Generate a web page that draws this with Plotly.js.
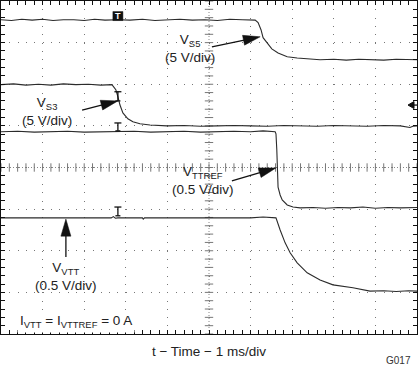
<!DOCTYPE html>
<html>
<head>
<meta charset="utf-8">
<script src="https://cdn.plot.ly/plotly-3.0.1.min.js"></script>
<style>html,body{margin:0;padding:0;background:#fff;}#chart{width:419px;height:365px;}</style>
</head>
<body>
<div id="chart"></div>
<script>
// Time axis in ms (1 ms/div), trace levels in screen divisions (0..8)
const tS5 = [0, 0.25, 0.5, 0.75, 1.0, 1.25, 1.5, 1.75, 2.0, 2.25, 2.5, 2.81, 3.1, 3.4, 3.7, 4.0, 4.3, 4.6, 4.9, 5.2, 5.5, 5.8, 6.11, 6.18, 6.25, 6.30, 6.39, 6.51, 6.66, 6.88, 7.12, 7.36, 7.67, 8.0, 8.3, 8.6, 8.9, 9.2, 9.5, 9.8, 10];
const vS5 = [7.55, 7.53, 7.56, 7.54, 7.56, 7.53, 7.55, 7.55, 7.53, 7.56, 7.54, 7.55, 7.54, 7.56, 7.53, 7.55, 7.56, 7.54, 7.55, 7.53, 7.56, 7.55, 7.54, 7.48, 7.31, 7.12, 7.00, 6.85, 6.75, 6.66, 6.63, 6.61, 6.59, 6.60, 6.58, 6.60, 6.59, 6.58, 6.60, 6.59, 6.59];

const tS3 = [0, 0.3, 0.6, 0.9, 1.2, 1.5, 1.8, 2.1, 2.4, 2.67, 2.69, 2.76, 2.81, 2.86, 2.93, 3.05, 3.17, 3.34, 3.58, 3.99, 4.4, 4.8, 5.2, 5.6, 6.0, 6.4, 6.8, 7.2, 7.6, 8.0, 8.4, 8.8, 9.2, 9.6, 9.83, 9.9, 10];
const vS3 = [5.99, 6.01, 5.98, 6.00, 5.98, 6.01, 5.99, 6.00, 5.98, 5.99, 5.96, 5.87, 5.70, 5.50, 5.31, 5.17, 5.10, 5.05, 5.02, 5.00, 5.01, 4.99, 5.00, 5.01, 5.00, 4.99, 5.01, 5.00, 4.99, 5.01, 5.00, 4.99, 5.01, 5.00, 4.96, 4.99, 5.00];

const tTTREF = [0, 0.4, 0.8, 1.2, 1.6, 2.0, 2.4, 2.8, 3.2, 3.6, 4.0, 4.4, 4.8, 5.2, 5.6, 6.0, 6.3, 6.59, 6.61, 6.63, 6.65, 6.66, 6.71, 6.76, 6.88, 7.02, 7.19, 7.5, 7.8, 8.1, 8.4, 8.7, 9.0, 9.3, 9.6, 10];
const vTTREF = [4.86, 4.87, 4.85, 4.86, 4.87, 4.85, 4.86, 4.86, 4.87, 4.85, 4.86, 4.87, 4.85, 4.86, 4.87, 4.86, 4.88, 4.86, 4.81, 4.42, 3.94, 3.53, 3.34, 3.22, 3.10, 3.05, 3.03, 3.04, 3.02, 3.04, 3.03, 3.05, 3.02, 3.04, 3.03, 3.04];

const tVTT = [0, 0.5, 1.0, 1.5, 2.0, 2.5, 2.65, 2.7, 2.75, 2.81, 3.0, 3.4, 3.42, 3.45, 4.0, 4.5, 5.0, 5.5, 6.0, 6.3, 6.61, 6.71, 6.83, 6.95, 7.12, 7.36, 7.67, 7.98, 8.46, 8.87, 9.2, 9.5, 9.8, 10];
const vVTT = [2.79, 2.79, 2.80, 2.79, 2.79, 2.79, 2.79, 2.82, 2.78, 2.79, 2.79, 2.79, 2.76, 2.79, 2.79, 2.79, 2.79, 2.79, 2.79, 2.81, 2.79, 2.50, 2.19, 1.95, 1.71, 1.47, 1.30, 1.18, 1.11, 1.03, 1.04, 1.02, 1.04, 1.03];

// Trigger position (ms) and channel marker spans (divisions)
const trigTime = 2.81;
const markerTop = [5.82, 5.07, 3.05];
const markerBottom = [5.60, 4.88, 2.84];
const trigLevel = 5.50;

const labels = [
  {text: 'V<sub>S5</sub><br>(5 V/div)', x: 4.54, y: 6.86},
  {text: 'V<sub>S3</sub><br>(5 V/div)', x: 1.10, y: 5.35},
  {text: 'V<sub>TTREF</sub><br>(0.5 V/div)', x: 4.85, y: 3.69},
  {text: 'V<sub>VTT</sub><br>(0.5 V/div)', x: 1.57, y: 1.38}
];
const noteText = 'I<sub>VTT</sub> = I<sub>VTTREF</sub> = 0 A';
const noteX = 1.80, noteY = 0.31;
const arrows = [
  {tail: [5.07, 6.90], tip: [6.23, 7.14]},
  {tail: [1.95, 5.38], tip: [2.81, 5.60]},
  {tail: [5.55, 3.68], tip: [6.61, 3.99]},
  {tail: [1.56, 1.85], tip: [1.56, 2.76]}
];

const FONT = 'Liberation Sans, Arial, sans-serif';
const ink = '#2b2b2b';
const PX = 41.6; // pixels per division

function traceOf(t, v) {
  return {x: t, y: v, type: 'scatter', mode: 'lines', line: {color: ink, width: 1.1}, hoverinfo: 'skip'};
}
const data = [traceOf(tS5, vS5), traceOf(tS3, vS3), traceOf(tTTREF, vTTREF), traceOf(tVTT, vVTT)];

// center crosshair minor ticks
const hx = [], hy = [], vx = [], vy = [];
for (let i = 0; i <= 50; i++) { hx.push(i * 0.2); hy.push(4); }
for (let i = 0; i <= 40; i++) { vx.push(5); vy.push(i * 0.2); }
data.unshift({x: hx, y: hy, type: 'scatter', mode: 'markers', marker: {symbol: 'line-ns', size: 6, line: {color: '#777', width: 1}}, hoverinfo: 'skip'});
data.unshift({x: vx, y: vy, type: 'scatter', mode: 'markers', marker: {symbol: 'line-ew', size: 6, line: {color: '#777', width: 1}}, hoverinfo: 'skip'});

const shapes = [
  {type: 'line', x0: 5, x1: 5, y0: 0, y1: 8, line: {color: '#888', width: 1, dash: '1px,2px'}, layer: 'below'},
  {type: 'line', x0: 0, x1: 10, y0: 4, y1: 4, line: {color: '#888', width: 1, dash: '1px,2px'}, layer: 'below'}
];
// I-beam channel markers
for (let i = 0; i < markerTop.length; i++) {
  const hwT = 3.5 / PX, hwB = 2.5 / PX;
  shapes.push({type: 'line', x0: trigTime, x1: trigTime, y0: markerBottom[i], y1: markerTop[i], line: {color: '#111', width: 1.3}});
  shapes.push({type: 'line', x0: trigTime - hwT, x1: trigTime + hwT, y0: markerTop[i], y1: markerTop[i], line: {color: '#111', width: 1.3}});
  shapes.push({type: 'line', x0: trigTime - hwB, x1: trigTime + hwB, y0: markerBottom[i], y1: markerBottom[i], line: {color: '#111', width: 1.3}});
}
// Trigger box on V_S5
shapes.push({type: 'rect', x0: trigTime - 5 / PX, x1: trigTime + 5 / PX, y0: 7.53, y1: 7.53 + 9 / PX, fillcolor: '#111', line: {color: '#111', width: 0.5}});
// Trigger level arrow at right edge
shapes.push({type: 'path', path: `M ${10 - 9 / PX},${trigLevel} L ${10 - 3 / PX},${trigLevel + 3.5 / PX} L ${10 - 3 / PX},${trigLevel - 3.5 / PX} Z`, fillcolor: '#111', line: {color: '#111', width: 1}});
shapes.push({type: 'line', x0: 10 - 4 / PX, x1: 10, y0: trigLevel, y1: trigLevel, line: {color: '#111', width: 1.3}});
// Label arrows
arrows.forEach(a => {
  const dx = a.tip[0] - a.tail[0], dy = a.tip[1] - a.tail[1];
  const L = Math.hypot(dx, dy), ux = dx / L, uy = dy / L;
  const hl = 17 / PX, hw = 5 / PX;
  const bx = a.tip[0] - ux * hl, by = a.tip[1] - uy * hl;
  shapes.push({type: 'line', x0: a.tail[0], y0: a.tail[1], x1: bx + ux * 2 / PX, y1: by + uy * 2 / PX, line: {color: '#111', width: 1.3}});
  shapes.push({type: 'path', path: `M ${a.tip[0]},${a.tip[1]} L ${bx - uy * hw},${by + ux * hw} L ${bx + uy * hw},${by - ux * hw} Z`, fillcolor: '#111', line: {color: '#111', width: 0.5}});
});

const annotations = labels.map(l => ({
  text: l.text, x: l.x, y: l.y, xref: 'x', yref: 'y', showarrow: false,
  xanchor: 'center', yanchor: 'middle', align: 'center',
  font: {family: FONT, size: 13.5, color: '#222'}
}));
annotations.push({text: noteText, x: noteX, y: noteY, xref: 'x', yref: 'y', showarrow: false,
  xanchor: 'center', yanchor: 'middle', bgcolor: '#fff', borderpad: 2,
  font: {family: FONT, size: 13.5, color: '#222'}});
annotations.push({text: '<b>T</b>', x: trigTime, y: 7.53 + 4.5 / PX, xref: 'x', yref: 'y', showarrow: false,
  xanchor: 'center', yanchor: 'middle', borderpad: 0,
  font: {family: FONT, size: 9, color: '#fff'}});
annotations.push({text: 'G017', x: 0.99, y: -0.081, xref: 'paper', yref: 'paper', showarrow: false,
  xanchor: 'right', yanchor: 'middle', font: {family: FONT, size: 10, color: '#333'}});

const axisBase = {
  showgrid: true, gridcolor: '#777', gridwidth: 1, griddash: '1px,7.32px',
  tick0: 0, dtick: 1, ticks: 'inside', ticklen: 4, tickcolor: '#111', tickwidth: 1,
  showline: true, linecolor: '#111', linewidth: 1, mirror: 'ticks',
  showticklabels: false, zeroline: false, fixedrange: true,
  minor: {ticks: 'inside', dtick: 0.2, ticklen: 4, tickcolor: '#111', showgrid: false}
};

const layout = {
  width: 419, height: 365,
  margin: {l: 1, r: 2, t: 1, b: 31},
  paper_bgcolor: '#fff', plot_bgcolor: '#fff',
  showlegend: false,
  xaxis: Object.assign({}, axisBase, {range: [0, 10],
    title: {text: 't − Time − 1 ms/div', standoff: 12, font: {family: FONT, size: 13.5, color: '#222'}}}),
  yaxis: Object.assign({}, axisBase, {range: [0, 8]}),
  shapes: shapes,
  annotations: annotations
};

Plotly.newPlot('chart', data, layout, {staticPlot: true, displayModeBar: false});
</script>
</body>
</html>
